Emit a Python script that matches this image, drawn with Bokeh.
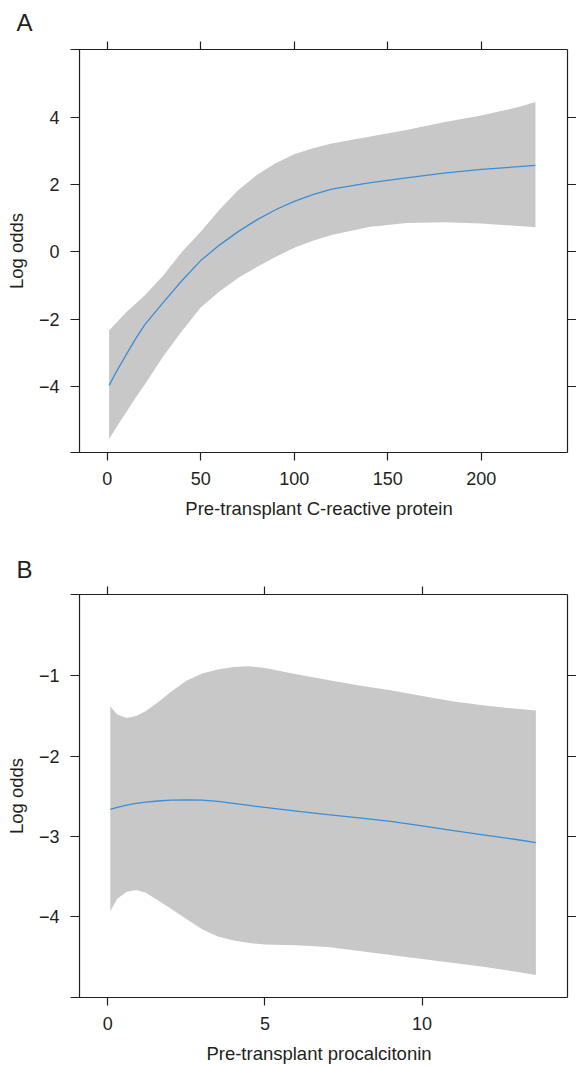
from bokeh.plotting import figure
from bokeh.models import LinearAxis, FixedTicker, Span, Range1d
from bokeh.layouts import column
from bokeh.embed import file_html
from bokeh.resources import INLINE

# ---------------- Panel A: C-reactive protein ----------------
crp_x = [1, 5, 10, 15, 20, 30, 40, 50, 60, 70, 80, 90, 100, 110, 120, 140, 160, 180, 200, 220, 229]
crp_fit = [-3.97, -3.55, -3.07, -2.6, -2.17, -1.5, -0.85, -0.26, 0.2, 0.6, 0.95, 1.25, 1.5, 1.7, 1.86,
           2.05, 2.2, 2.34, 2.45, 2.53, 2.57]
crp_upper = [-2.34, -2.1, -1.8, -1.55, -1.3, -0.7, 0.0, 0.6, 1.25, 1.83, 2.28, 2.63, 2.9, 3.08, 3.22,
             3.42, 3.62, 3.85, 4.05, 4.3, 4.45]
crp_lower = [-5.56, -5.2, -4.78, -4.35, -3.95, -3.1, -2.35, -1.65, -1.18, -0.78, -0.45, -0.15, 0.12, 0.33,
             0.5, 0.74, 0.86, 0.88, 0.84, 0.77, 0.73]
crp_xticks = [0, 50, 100, 150, 200]
crp_yticks = [-4, -2, 0, 2, 4]

# ---------------- Panel B: procalcitonin ----------------
pct_x = [0.08, 0.3, 0.6, 0.9, 1.2, 1.6, 2.0, 2.5, 3.0, 3.5, 4.0, 4.5, 5.0, 6.0, 7.0, 8.0, 9.0, 10.0,
         11.0, 12.0, 13.0, 13.62]
pct_fit = [-2.665, -2.64, -2.61, -2.59, -2.575, -2.56, -2.55, -2.545, -2.55, -2.565, -2.59, -2.615,
           -2.64, -2.685, -2.73, -2.77, -2.815, -2.87, -2.93, -2.985, -3.04, -3.08]
pct_upper = [-1.38, -1.48, -1.525, -1.50, -1.44, -1.33, -1.2, -1.06, -0.97, -0.92, -0.89, -0.88, -0.9,
             -0.98, -1.05, -1.12, -1.18, -1.25, -1.32, -1.37, -1.41, -1.43]
pct_lower = [-3.93, -3.78, -3.69, -3.67, -3.70, -3.8, -3.9, -4.03, -4.16, -4.25, -4.3, -4.33, -4.35,
             -4.36, -4.38, -4.43, -4.48, -4.53, -4.58, -4.63, -4.69, -4.73]
pct_xticks = [0, 5, 10]
pct_yticks = [-4, -3, -2, -1]

FONT = "Liberation Sans"
INK = "#231f20"
BAND = "#c8c8c8"
LINE = "#3b8dd6"


def fmt(t):
    return str(t).replace("-", "\u2212")


def make_panel(letter, xs, fit, lo, hi, xticks, yticks, xr, yr, box_left, xlabel,
               height, top_border, bottom_border, title_standoff):
    p = figure(width=576, height=height, x_range=Range1d(*xr), y_range=Range1d(*yr),
               output_backend="svg", toolbar_location=None,
               x_axis_location=None, y_axis_location=None,
               min_border_left=70, min_border_right=9,
               min_border_top=top_border, min_border_bottom=bottom_border)
    p.outline_line_color = None
    p.background_fill_color = "white"
    p.border_fill_color = "white"
    p.xgrid.grid_line_color = None
    p.ygrid.grid_line_color = None

    p.title.text = letter
    p.title.text_font = FONT
    p.title.text_font_size = "24px"
    p.title.text_font_style = "normal"
    p.title.text_color = INK
    p.title.align = "left"
    p.title.offset = -54
    p.title.standoff = title_standoff

    p.varea(x=xs, y1=lo, y2=hi, fill_color=BAND, fill_alpha=1.0)
    p.line(x=xs, y=fit, line_color=LINE, line_width=1.3)

    def style(ax):
        ax.axis_line_color = INK
        ax.axis_line_width = 1.2
        ax.major_tick_line_color = INK
        ax.major_tick_line_width = 1.2
        ax.minor_tick_line_color = None
        ax.major_label_text_font = FONT
        ax.major_label_text_color = INK
        ax.major_label_text_font_size = "18px"
        ax.axis_label_text_font = FONT
        ax.axis_label_text_font_style = "normal"
        ax.axis_label_text_font_size = "18.5px"
        ax.axis_label_text_color = INK

    bottom = LinearAxis(ticker=FixedTicker(ticks=xticks), axis_label=xlabel,
                        major_label_overrides={t: fmt(t) for t in xticks})
    style(bottom)
    bottom.major_tick_out = 8
    bottom.major_tick_in = 0
    bottom.major_label_standoff = 11
    bottom.axis_label_standoff = 10
    p.add_layout(bottom, "below")

    left = LinearAxis(ticker=FixedTicker(ticks=yticks), axis_label="Log odds",
                      major_label_overrides={t: fmt(t) for t in yticks})
    style(left)
    left.axis_line_color = None
    left.major_tick_out = 0
    left.major_tick_in = 9
    left.major_label_standoff = 11
    left.axis_label_standoff = 9
    p.add_layout(left, "left")

    top = LinearAxis(ticker=FixedTicker(ticks=xticks),
                     major_label_overrides={t: "" for t in xticks})
    style(top)
    top.major_label_text_font_size = "1px"
    top.major_label_standoff = 0
    top.major_tick_out = 8
    top.major_tick_in = 0
    p.add_layout(top, "above")

    right = LinearAxis(ticker=FixedTicker(ticks=yticks),
                       major_label_overrides={t: "" for t in yticks})
    style(right)
    right.major_label_text_font_size = "1px"
    right.major_label_standoff = 0
    right.major_tick_out = 9
    right.major_tick_in = 0
    p.add_layout(right, "right")

    p.add_layout(Span(location=box_left, dimension="height", line_color=INK, line_width=1.2))
    return p


pa = make_panel("A", crp_x, crp_fit, crp_lower, crp_upper, crp_xticks, crp_yticks,
                (-19.63, 246.15), (-5.96, 6.01), -14.81,
                "Pre-transplant C-reactive protein", 546, 49, 94, 12)
pb = make_panel("B", pct_x, pct_fit, pct_lower, pct_upper, pct_xticks, pct_yticks,
                (-1.187, 14.626), (-5.01, 0.015), -0.90,
                "Pre-transplant procalcitonin", 520, 48, 67, 7)

layout = column(pa, pb, spacing=0)
open("out.html", "w").write(file_html(layout, INLINE))
